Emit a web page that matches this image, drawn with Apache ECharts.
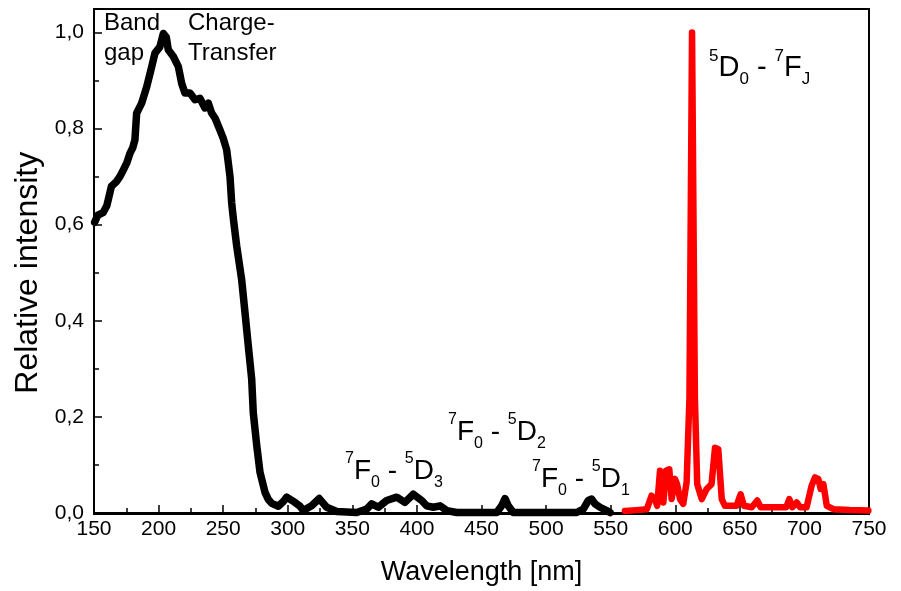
<!DOCTYPE html>
<html><head><meta charset="utf-8">
<script src="https://cdn.jsdelivr.net/npm/echarts@6/dist/echarts.min.js"></script>
<style>html,body{margin:0;padding:0;background:#fff}#c{width:901px;height:591px}</style>
</head><body><div id="c"></div>
<script>
// Excitation spectrum (black)
const excitationWavelength = [150.5,153,157,160,163.5,167.5,170,172.7,175.3,177.9,180,181.7,183,186.9,190.8,194.7,197.2,201,203.7,206,207.5,211.4,215.3,217.9,220.4,224.3,228.2,232,235.9,238.5,241.1,243.7,247.5,250,252.7,255.3,256.6,258,260.5,264.3,266.9,269.5,272.1,273.3,276,278.5,282.4,285,287.6,292.7,296.6,299.2,301,305.6,309.5,312,318.5,324.4,330.1,337.9,353.4,361.1,365,370.1,376.6,384.4,390.7,397.2,403.7,407.5,412.7,417.9,423.1,430.8,461.8,465.6,468.2,470.7,474.6,523.7,528.8,532.7,535.3,537.9,541.7,546.9,549.5];
const excitationIntensity = [0.605,0.62,0.625,0.64,0.68,0.69,0.70,0.714,0.728,0.749,0.76,0.777,0.832,0.853,0.887,0.929,0.957,0.97,0.998,0.99,0.964,0.95,0.929,0.894,0.874,0.874,0.86,0.863,0.843,0.853,0.832,0.822,0.797,0.78,0.756,0.70,0.645,0.61,0.555,0.486,0.417,0.347,0.278,0.209,0.14,0.085,0.043,0.028,0.02,0.014,0.024,0.033,0.03,0.022,0.014,0.005,0.015,0.03,0.012,0.003,0.001,0.008,0.019,0.012,0.026,0.033,0.022,0.039,0.026,0.015,0.012,0.015,0.005,0.001,0.001,0.015,0.03,0.015,0.001,0.001,0.008,0.026,0.029,0.019,0.012,0.005,0.001];
// Emission spectrum (red)
const emissionWavelength = [561,570,578,581.7,584.3,586,588.2,590.8,592.8,595.4,597.2,599.8,601.4,603.7,606.2,608.8,611,613,615.2,617,620.5,624.3,628.1,630.8,633.3,636,638.5,647.5,650.6,653.2,659.2,663.5,666.1,675.9,686,688.3,690.6,694,696.6,701.7,705.6,708.2,710.8,712.6,714.7,717.3,722.5,735,749.5];
const emissionIntensity = [0.004,0.006,0.008,0.036,0.029,0.015,0.088,0.022,0.088,0.091,0.029,0.071,0.06,0.029,0.019,0.064,0.24,1.0,0.24,0.06,0.029,0.05,0.06,0.136,0.133,0.029,0.015,0.015,0.039,0.015,0.012,0.026,0.012,0.012,0.012,0.029,0.012,0.022,0.012,0.012,0.057,0.074,0.071,0.05,0.06,0.015,0.008,0.006,0.005];
// Axis ticks
const xTickValues = [150,200,250,300,350,400,450,500,550,600,650,700,750];
const yTickValues = [0,0.2,0.4,0.6,0.8,1.0];

const FONT = '"Liberation Sans", Arial, sans-serif';
const excData = excitationWavelength.map((x,i)=>[x, excitationIntensity[i]]);
const emData = emissionWavelength.map((x,i)=>[x, emissionIntensity[i]]);

function makeRich(main, small) {
  return {
    m: {fontSize: main, fontFamily: FONT, color:'#000', lineHeight: 40},
    sup: {fontSize: small, fontFamily: FONT, color:'#000', lineHeight: 18, verticalAlign: 'top'},
    sub: {fontSize: small, fontFamily: FONT, color:'#000', lineHeight: 12, verticalAlign: 'bottom'}
  };
}
function label(left, top, txt, main, small) {
  return {type:'text', left:left, top:top, z:100, style:{text:txt, rich:makeRich(main, small), fill:'#000', font: main + 'px '+FONT}};
}

const chart = echarts.init(document.getElementById('c'), null, {renderer:'canvas'});
chart.setOption({
  animation: false,
  backgroundColor: '#fff',
  grid: {left: 94, right: 32, top: 32.5, bottom: 77, containLabel: false},
  xAxis: {
    type: 'value', min: xTickValues[0], max: xTickValues[xTickValues.length-1], interval: xTickValues[1]-xTickValues[0],
    name: 'Wavelength [nm]', nameLocation: 'middle', nameGap: 46,
    nameTextStyle: {fontSize: 27, fontFamily: FONT, color: '#000'},
    axisLine: {show: true, onZero: false, lineStyle: {color: '#000', width: 2}},
    axisTick: {show: true, inside: true, length: 8, lineStyle: {color: '#000', width: 1.5}},
    minorTick: {show: true, splitNumber: 2, length: 5, lineStyle: {color: '#000', width: 1.5}},
    splitLine: {show: false},
    axisLabel: {fontSize: 21, fontFamily: FONT, color: '#000', margin: 6}
  },
  yAxis: {
    type: 'value', min: yTickValues[0], max: yTickValues[yTickValues.length-1], interval: yTickValues[1]-yTickValues[0],
    name: 'Relative intensity', nameLocation: 'middle', nameGap: 50,
    nameTextStyle: {fontSize: 32, fontFamily: FONT, color: '#000'},
    axisLine: {show: true, onZero: false, lineStyle: {color: '#000', width: 2}},
    axisTick: {show: true, inside: true, length: 8, lineStyle: {color: '#000', width: 1.5}},
    minorTick: {show: true, splitNumber: 2, length: 5, lineStyle: {color: '#000', width: 1.5}},
    splitLine: {show: false},
    axisLabel: {fontSize: 21, fontFamily: FONT, color: '#000', margin: 10,
      formatter: v => v.toFixed(1).replace('.', ',')}
  },
  series: [
    {type: 'line', data: excData, showSymbol: false, clip: false, z: 3,
     lineStyle: {color: '#000', width: 7.5, cap: 'round', join: 'round'}},
    {type: 'line', data: emData, showSymbol: false, clip: false, z: 3,
     lineStyle: {color: '#ff0000', width: 6.5, cap: 'round', join: 'round'}}
  ],
  graphic: [
    {type: 'rect', shape: {x: 94, y: 9, width: 775, height: 505}, z: 0, silent: true,
     style: {fill: 'none', stroke: '#000', lineWidth: 2}},
    {type: 'text', left: 104, top: 8, style: {text: 'Band\ngap', font: '24px ' + FONT, fill: '#000', lineHeight: 30}},
    {type: 'text', left: 188, top: 8, style: {text: 'Charge-\nTransfer', font: '24px ' + FONT, fill: '#000', lineHeight: 30}},
    label(709, 48, '{sup|5}{m|D}{sub|0}{m| - }{sup|7}{m|F}{sub|J}', 29, 17),
    label(345, 451, '{sup|7}{m|F}{sub|0}{m| - }{sup|5}{m|D}{sub|3}', 28, 16),
    label(448, 412, '{sup|7}{m|F}{sub|0}{m| - }{sup|5}{m|D}{sub|2}', 28, 16),
    label(532, 459, '{sup|7}{m|F}{sub|0}{m| - }{sup|5}{m|D}{sub|1}', 28, 16)
  ]
});
</script></body></html>
